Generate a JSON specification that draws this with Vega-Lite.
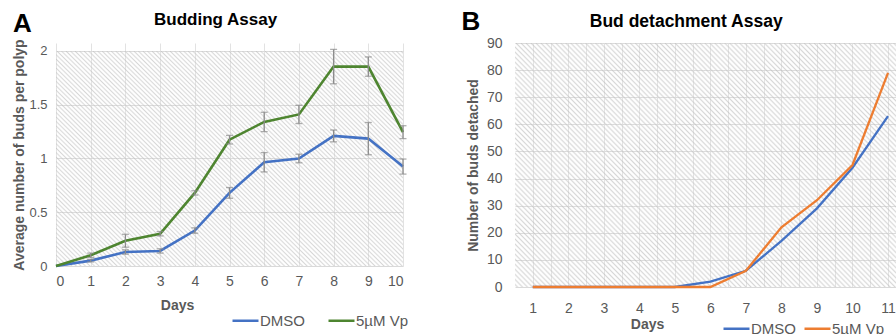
{
  "$schema": "https://vega.github.io/schema/vega-lite/v6.json",
  "padding": {"left": 12, "top": 8, "right": 0, "bottom": 0},
  "background": "white",
  "spacing": 52,
  "config": {
    "font": "Liberation Sans",
    "view": {"stroke": null, "fill": null},
    "rect": {
      "fill": {
        "gradient": "linear", "x1": 0, "y1": 1, "x2": 1.167, "y2": 0.265,
        "stops": [
          {"offset":0,"color":"rgba(255,255,255,0)"},{"offset":0.004,"color":"rgba(190,190,190,0.62)"},{"offset":0.008,"color":"rgba(255,255,255,0)"},{"offset":0.012,"color":"rgba(190,190,190,0.62)"},{"offset":0.016,"color":"rgba(255,255,255,0)"},{"offset":0.02,"color":"rgba(190,190,190,0.62)"},{"offset":0.024,"color":"rgba(255,255,255,0)"},{"offset":0.028,"color":"rgba(190,190,190,0.62)"},{"offset":0.032,"color":"rgba(255,255,255,0)"},{"offset":0.036,"color":"rgba(190,190,190,0.62)"},
          {"offset":0.04,"color":"rgba(255,255,255,0)"},{"offset":0.044,"color":"rgba(190,190,190,0.62)"},{"offset":0.048,"color":"rgba(255,255,255,0)"},{"offset":0.052,"color":"rgba(190,190,190,0.62)"},{"offset":0.056,"color":"rgba(255,255,255,0)"},{"offset":0.06,"color":"rgba(190,190,190,0.62)"},{"offset":0.064,"color":"rgba(255,255,255,0)"},{"offset":0.068,"color":"rgba(190,190,190,0.62)"},{"offset":0.072,"color":"rgba(255,255,255,0)"},{"offset":0.076,"color":"rgba(190,190,190,0.62)"},
          {"offset":0.08,"color":"rgba(255,255,255,0)"},{"offset":0.084,"color":"rgba(190,190,190,0.62)"},{"offset":0.088,"color":"rgba(255,255,255,0)"},{"offset":0.092,"color":"rgba(190,190,190,0.62)"},{"offset":0.096,"color":"rgba(255,255,255,0)"},{"offset":0.1,"color":"rgba(190,190,190,0.62)"},{"offset":0.104,"color":"rgba(255,255,255,0)"},{"offset":0.108,"color":"rgba(190,190,190,0.62)"},{"offset":0.112,"color":"rgba(255,255,255,0)"},{"offset":0.116,"color":"rgba(190,190,190,0.62)"},
          {"offset":0.12,"color":"rgba(255,255,255,0)"},{"offset":0.124,"color":"rgba(190,190,190,0.62)"},{"offset":0.128,"color":"rgba(255,255,255,0)"},{"offset":0.132,"color":"rgba(190,190,190,0.62)"},{"offset":0.136,"color":"rgba(255,255,255,0)"},{"offset":0.14,"color":"rgba(190,190,190,0.62)"},{"offset":0.144,"color":"rgba(255,255,255,0)"},{"offset":0.148,"color":"rgba(190,190,190,0.62)"},{"offset":0.152,"color":"rgba(255,255,255,0)"},{"offset":0.156,"color":"rgba(190,190,190,0.62)"},
          {"offset":0.16,"color":"rgba(255,255,255,0)"},{"offset":0.164,"color":"rgba(190,190,190,0.62)"},{"offset":0.168,"color":"rgba(255,255,255,0)"},{"offset":0.172,"color":"rgba(190,190,190,0.62)"},{"offset":0.176,"color":"rgba(255,255,255,0)"},{"offset":0.18,"color":"rgba(190,190,190,0.62)"},{"offset":0.184,"color":"rgba(255,255,255,0)"},{"offset":0.188,"color":"rgba(190,190,190,0.62)"},{"offset":0.192,"color":"rgba(255,255,255,0)"},{"offset":0.196,"color":"rgba(190,190,190,0.62)"},
          {"offset":0.2,"color":"rgba(255,255,255,0)"},{"offset":0.204,"color":"rgba(190,190,190,0.62)"},{"offset":0.208,"color":"rgba(255,255,255,0)"},{"offset":0.212,"color":"rgba(190,190,190,0.62)"},{"offset":0.216,"color":"rgba(255,255,255,0)"},{"offset":0.22,"color":"rgba(190,190,190,0.62)"},{"offset":0.224,"color":"rgba(255,255,255,0)"},{"offset":0.228,"color":"rgba(190,190,190,0.62)"},{"offset":0.232,"color":"rgba(255,255,255,0)"},{"offset":0.236,"color":"rgba(190,190,190,0.62)"},
          {"offset":0.24,"color":"rgba(255,255,255,0)"},{"offset":0.244,"color":"rgba(190,190,190,0.62)"},{"offset":0.248,"color":"rgba(255,255,255,0)"},{"offset":0.252,"color":"rgba(190,190,190,0.62)"},{"offset":0.256,"color":"rgba(255,255,255,0)"},{"offset":0.26,"color":"rgba(190,190,190,0.62)"},{"offset":0.264,"color":"rgba(255,255,255,0)"},{"offset":0.268,"color":"rgba(190,190,190,0.62)"},{"offset":0.272,"color":"rgba(255,255,255,0)"},{"offset":0.276,"color":"rgba(190,190,190,0.62)"},
          {"offset":0.28,"color":"rgba(255,255,255,0)"},{"offset":0.284,"color":"rgba(190,190,190,0.62)"},{"offset":0.288,"color":"rgba(255,255,255,0)"},{"offset":0.292,"color":"rgba(190,190,190,0.62)"},{"offset":0.296,"color":"rgba(255,255,255,0)"},{"offset":0.3,"color":"rgba(190,190,190,0.62)"},{"offset":0.304,"color":"rgba(255,255,255,0)"},{"offset":0.308,"color":"rgba(190,190,190,0.62)"},{"offset":0.312,"color":"rgba(255,255,255,0)"},{"offset":0.316,"color":"rgba(190,190,190,0.62)"},
          {"offset":0.32,"color":"rgba(255,255,255,0)"},{"offset":0.324,"color":"rgba(190,190,190,0.62)"},{"offset":0.328,"color":"rgba(255,255,255,0)"},{"offset":0.332,"color":"rgba(190,190,190,0.62)"},{"offset":0.336,"color":"rgba(255,255,255,0)"},{"offset":0.34,"color":"rgba(190,190,190,0.62)"},{"offset":0.344,"color":"rgba(255,255,255,0)"},{"offset":0.348,"color":"rgba(190,190,190,0.62)"},{"offset":0.352,"color":"rgba(255,255,255,0)"},{"offset":0.356,"color":"rgba(190,190,190,0.62)"},
          {"offset":0.36,"color":"rgba(255,255,255,0)"},{"offset":0.364,"color":"rgba(190,190,190,0.62)"},{"offset":0.368,"color":"rgba(255,255,255,0)"},{"offset":0.372,"color":"rgba(190,190,190,0.62)"},{"offset":0.376,"color":"rgba(255,255,255,0)"},{"offset":0.38,"color":"rgba(190,190,190,0.62)"},{"offset":0.384,"color":"rgba(255,255,255,0)"},{"offset":0.388,"color":"rgba(190,190,190,0.62)"},{"offset":0.392,"color":"rgba(255,255,255,0)"},{"offset":0.396,"color":"rgba(190,190,190,0.62)"},
          {"offset":0.4,"color":"rgba(255,255,255,0)"},{"offset":0.404,"color":"rgba(190,190,190,0.62)"},{"offset":0.408,"color":"rgba(255,255,255,0)"},{"offset":0.412,"color":"rgba(190,190,190,0.62)"},{"offset":0.416,"color":"rgba(255,255,255,0)"},{"offset":0.42,"color":"rgba(190,190,190,0.62)"},{"offset":0.424,"color":"rgba(255,255,255,0)"},{"offset":0.428,"color":"rgba(190,190,190,0.62)"},{"offset":0.432,"color":"rgba(255,255,255,0)"},{"offset":0.436,"color":"rgba(190,190,190,0.62)"},
          {"offset":0.44,"color":"rgba(255,255,255,0)"},{"offset":0.444,"color":"rgba(190,190,190,0.62)"},{"offset":0.448,"color":"rgba(255,255,255,0)"},{"offset":0.452,"color":"rgba(190,190,190,0.62)"},{"offset":0.456,"color":"rgba(255,255,255,0)"},{"offset":0.46,"color":"rgba(190,190,190,0.62)"},{"offset":0.464,"color":"rgba(255,255,255,0)"},{"offset":0.468,"color":"rgba(190,190,190,0.62)"},{"offset":0.472,"color":"rgba(255,255,255,0)"},{"offset":0.476,"color":"rgba(190,190,190,0.62)"},
          {"offset":0.48,"color":"rgba(255,255,255,0)"},{"offset":0.484,"color":"rgba(190,190,190,0.62)"},{"offset":0.488,"color":"rgba(255,255,255,0)"},{"offset":0.492,"color":"rgba(190,190,190,0.62)"},{"offset":0.496,"color":"rgba(255,255,255,0)"},{"offset":0.5,"color":"rgba(190,190,190,0.62)"},{"offset":0.504,"color":"rgba(255,255,255,0)"},{"offset":0.508,"color":"rgba(190,190,190,0.62)"},{"offset":0.512,"color":"rgba(255,255,255,0)"},{"offset":0.516,"color":"rgba(190,190,190,0.62)"},
          {"offset":0.52,"color":"rgba(255,255,255,0)"},{"offset":0.524,"color":"rgba(190,190,190,0.62)"},{"offset":0.528,"color":"rgba(255,255,255,0)"},{"offset":0.532,"color":"rgba(190,190,190,0.62)"},{"offset":0.536,"color":"rgba(255,255,255,0)"},{"offset":0.54,"color":"rgba(190,190,190,0.62)"},{"offset":0.544,"color":"rgba(255,255,255,0)"},{"offset":0.548,"color":"rgba(190,190,190,0.62)"},{"offset":0.552,"color":"rgba(255,255,255,0)"},{"offset":0.556,"color":"rgba(190,190,190,0.62)"},
          {"offset":0.56,"color":"rgba(255,255,255,0)"},{"offset":0.564,"color":"rgba(190,190,190,0.62)"},{"offset":0.568,"color":"rgba(255,255,255,0)"},{"offset":0.572,"color":"rgba(190,190,190,0.62)"},{"offset":0.576,"color":"rgba(255,255,255,0)"},{"offset":0.58,"color":"rgba(190,190,190,0.62)"},{"offset":0.584,"color":"rgba(255,255,255,0)"},{"offset":0.588,"color":"rgba(190,190,190,0.62)"},{"offset":0.592,"color":"rgba(255,255,255,0)"},{"offset":0.596,"color":"rgba(190,190,190,0.62)"},
          {"offset":0.6,"color":"rgba(255,255,255,0)"},{"offset":0.604,"color":"rgba(190,190,190,0.62)"},{"offset":0.608,"color":"rgba(255,255,255,0)"},{"offset":0.612,"color":"rgba(190,190,190,0.62)"},{"offset":0.616,"color":"rgba(255,255,255,0)"},{"offset":0.62,"color":"rgba(190,190,190,0.62)"},{"offset":0.624,"color":"rgba(255,255,255,0)"},{"offset":0.628,"color":"rgba(190,190,190,0.62)"},{"offset":0.632,"color":"rgba(255,255,255,0)"},{"offset":0.636,"color":"rgba(190,190,190,0.62)"},
          {"offset":0.64,"color":"rgba(255,255,255,0)"},{"offset":0.644,"color":"rgba(190,190,190,0.62)"},{"offset":0.648,"color":"rgba(255,255,255,0)"},{"offset":0.652,"color":"rgba(190,190,190,0.62)"},{"offset":0.656,"color":"rgba(255,255,255,0)"},{"offset":0.66,"color":"rgba(190,190,190,0.62)"},{"offset":0.664,"color":"rgba(255,255,255,0)"},{"offset":0.668,"color":"rgba(190,190,190,0.62)"},{"offset":0.672,"color":"rgba(255,255,255,0)"},{"offset":0.676,"color":"rgba(190,190,190,0.62)"},
          {"offset":0.68,"color":"rgba(255,255,255,0)"},{"offset":0.684,"color":"rgba(190,190,190,0.62)"},{"offset":0.688,"color":"rgba(255,255,255,0)"},{"offset":0.692,"color":"rgba(190,190,190,0.62)"},{"offset":0.696,"color":"rgba(255,255,255,0)"},{"offset":0.7,"color":"rgba(190,190,190,0.62)"},{"offset":0.704,"color":"rgba(255,255,255,0)"},{"offset":0.708,"color":"rgba(190,190,190,0.62)"},{"offset":0.712,"color":"rgba(255,255,255,0)"},{"offset":0.716,"color":"rgba(190,190,190,0.62)"},
          {"offset":0.72,"color":"rgba(255,255,255,0)"},{"offset":0.724,"color":"rgba(190,190,190,0.62)"},{"offset":0.728,"color":"rgba(255,255,255,0)"},{"offset":0.732,"color":"rgba(190,190,190,0.62)"},{"offset":0.736,"color":"rgba(255,255,255,0)"},{"offset":0.74,"color":"rgba(190,190,190,0.62)"},{"offset":0.744,"color":"rgba(255,255,255,0)"},{"offset":0.748,"color":"rgba(190,190,190,0.62)"},{"offset":0.752,"color":"rgba(255,255,255,0)"},{"offset":0.756,"color":"rgba(190,190,190,0.62)"},
          {"offset":0.76,"color":"rgba(255,255,255,0)"},{"offset":0.764,"color":"rgba(190,190,190,0.62)"},{"offset":0.768,"color":"rgba(255,255,255,0)"},{"offset":0.772,"color":"rgba(190,190,190,0.62)"},{"offset":0.776,"color":"rgba(255,255,255,0)"},{"offset":0.78,"color":"rgba(190,190,190,0.62)"},{"offset":0.784,"color":"rgba(255,255,255,0)"},{"offset":0.788,"color":"rgba(190,190,190,0.62)"},{"offset":0.792,"color":"rgba(255,255,255,0)"},{"offset":0.796,"color":"rgba(190,190,190,0.62)"},
          {"offset":0.8,"color":"rgba(255,255,255,0)"},{"offset":0.804,"color":"rgba(190,190,190,0.62)"},{"offset":0.808,"color":"rgba(255,255,255,0)"},{"offset":0.812,"color":"rgba(190,190,190,0.62)"},{"offset":0.816,"color":"rgba(255,255,255,0)"},{"offset":0.82,"color":"rgba(190,190,190,0.62)"},{"offset":0.824,"color":"rgba(255,255,255,0)"},{"offset":0.828,"color":"rgba(190,190,190,0.62)"},{"offset":0.832,"color":"rgba(255,255,255,0)"},{"offset":0.836,"color":"rgba(190,190,190,0.62)"},
          {"offset":0.84,"color":"rgba(255,255,255,0)"},{"offset":0.844,"color":"rgba(190,190,190,0.62)"},{"offset":0.848,"color":"rgba(255,255,255,0)"},{"offset":0.852,"color":"rgba(190,190,190,0.62)"},{"offset":0.856,"color":"rgba(255,255,255,0)"},{"offset":0.86,"color":"rgba(190,190,190,0.62)"},{"offset":0.864,"color":"rgba(255,255,255,0)"},{"offset":0.868,"color":"rgba(190,190,190,0.62)"},{"offset":0.872,"color":"rgba(255,255,255,0)"},{"offset":0.876,"color":"rgba(190,190,190,0.62)"},
          {"offset":0.88,"color":"rgba(255,255,255,0)"},{"offset":0.884,"color":"rgba(190,190,190,0.62)"},{"offset":0.888,"color":"rgba(255,255,255,0)"},{"offset":0.892,"color":"rgba(190,190,190,0.62)"},{"offset":0.896,"color":"rgba(255,255,255,0)"},{"offset":0.9,"color":"rgba(190,190,190,0.62)"},{"offset":0.904,"color":"rgba(255,255,255,0)"},{"offset":0.908,"color":"rgba(190,190,190,0.62)"},{"offset":0.912,"color":"rgba(255,255,255,0)"},{"offset":0.916,"color":"rgba(190,190,190,0.62)"},
          {"offset":0.92,"color":"rgba(255,255,255,0)"},{"offset":0.924,"color":"rgba(190,190,190,0.62)"},{"offset":0.928,"color":"rgba(255,255,255,0)"},{"offset":0.932,"color":"rgba(190,190,190,0.62)"},{"offset":0.936,"color":"rgba(255,255,255,0)"},{"offset":0.94,"color":"rgba(190,190,190,0.62)"},{"offset":0.944,"color":"rgba(255,255,255,0)"},{"offset":0.948,"color":"rgba(190,190,190,0.62)"},{"offset":0.952,"color":"rgba(255,255,255,0)"},{"offset":0.956,"color":"rgba(190,190,190,0.62)"},
          {"offset":0.96,"color":"rgba(255,255,255,0)"},{"offset":0.964,"color":"rgba(190,190,190,0.62)"},{"offset":0.968,"color":"rgba(255,255,255,0)"},{"offset":0.972,"color":"rgba(190,190,190,0.62)"},{"offset":0.976,"color":"rgba(255,255,255,0)"},{"offset":0.98,"color":"rgba(190,190,190,0.62)"},{"offset":0.984,"color":"rgba(255,255,255,0)"},{"offset":0.988,"color":"rgba(190,190,190,0.62)"},{"offset":0.992,"color":"rgba(255,255,255,0)"},{"offset":0.996,"color":"rgba(190,190,190,0.62)"},
          {"offset":1,"color":"rgba(255,255,255,0)"}
        ]
      }
    },
    "axis": {
      "labelColor": "#595959", "titleColor": "#595959",
      "labelFont": "Liberation Sans", "titleFont": "Liberation Sans",
      "labelFontSize": 14, "titleFontSize": 14, "titleFontWeight": "bold",
      "ticks": false, "domain": false, "gridColor": "#d9d9d9", "gridWidth": 1, "labelAngle": 0, "labelOverlap": false
    },
    "legend": {
      "orient": "none", "direction": "horizontal", "symbolType": "stroke",
      "symbolSize": 676, "symbolStrokeWidth": 2.5, "labelFontSize": 15,
      "labelColor": "#595959", "labelFont": "Liberation Sans", "labelOffset": 0
    },
    "title": {"font": "Liberation Sans", "color": "#000000", "fontWeight": "bold"}
  },
  "resolve": {"scale": {"color": "independent"}, "legend": {"color": "independent"}},
  "datasets": {
    "budding": [
      {"day": 0, "group": "DMSO", "mean": 0, "err": 0},
      {"day": 1, "group": "DMSO", "mean": 0.05, "err": 0.012},
      {"day": 2, "group": "DMSO", "mean": 0.13, "err": 0.02},
      {"day": 3, "group": "DMSO", "mean": 0.14, "err": 0.02},
      {"day": 4, "group": "DMSO", "mean": 0.33, "err": 0.025},
      {"day": 5, "group": "DMSO", "mean": 0.68, "err": 0.05},
      {"day": 6, "group": "DMSO", "mean": 0.965, "err": 0.09},
      {"day": 7, "group": "DMSO", "mean": 1.0, "err": 0.04},
      {"day": 8, "group": "DMSO", "mean": 1.21, "err": 0.055},
      {"day": 9, "group": "DMSO", "mean": 1.185, "err": 0.15},
      {"day": 10, "group": "DMSO", "mean": 0.925, "err": 0.07},
      {"day": 0, "group": "5µM Vp", "mean": 0, "err": 0},
      {"day": 1, "group": "5µM Vp", "mean": 0.1, "err": 0.02},
      {"day": 2, "group": "5µM Vp", "mean": 0.235, "err": 0.06},
      {"day": 3, "group": "5µM Vp", "mean": 0.3, "err": 0.02},
      {"day": 4, "group": "5µM Vp", "mean": 0.68, "err": 0.02},
      {"day": 5, "group": "5µM Vp", "mean": 1.175, "err": 0.04},
      {"day": 6, "group": "5µM Vp", "mean": 1.34, "err": 0.09},
      {"day": 7, "group": "5µM Vp", "mean": 1.41, "err": 0.085},
      {"day": 8, "group": "5µM Vp", "mean": 1.855, "err": 0.16},
      {"day": 9, "group": "5µM Vp", "mean": 1.855, "err": 0.09},
      {"day": 10, "group": "5µM Vp", "mean": 1.245, "err": 0.06}
    ],
    "detach": [
      {"day": 1, "group": "DMSO", "value": 0},
      {"day": 2, "group": "DMSO", "value": 0},
      {"day": 3, "group": "DMSO", "value": 0},
      {"day": 4, "group": "DMSO", "value": 0},
      {"day": 5, "group": "DMSO", "value": 0},
      {"day": 6, "group": "DMSO", "value": 2},
      {"day": 7, "group": "DMSO", "value": 6},
      {"day": 8, "group": "DMSO", "value": 17},
      {"day": 9, "group": "DMSO", "value": 29},
      {"day": 10, "group": "DMSO", "value": 44},
      {"day": 11, "group": "DMSO", "value": 63},
      {"day": 1, "group": "5µM Vp", "value": 0},
      {"day": 2, "group": "5µM Vp", "value": 0},
      {"day": 3, "group": "5µM Vp", "value": 0},
      {"day": 4, "group": "5µM Vp", "value": 0},
      {"day": 5, "group": "5µM Vp", "value": 0},
      {"day": 6, "group": "5µM Vp", "value": 0},
      {"day": 7, "group": "5µM Vp", "value": 6},
      {"day": 8, "group": "5µM Vp", "value": 22},
      {"day": 9, "group": "5µM Vp", "value": 32},
      {"day": 10, "group": "5µM Vp", "value": 45},
      {"day": 11, "group": "5µM Vp", "value": 79}
    ]
  },
  "hconcat": [
    {
      "title": {"text": "A", "anchor": "start", "frame": "bounds", "fontSize": 26, "dy": 30},
      "vconcat": [
        {
          "title": {"text": "Budding Assay", "fontSize": 17, "anchor": "middle", "frame": "bounds", "offset": 10, "dx": 5},
          "width": 347,
          "height": 223,
          "layer": [
            {
              "data": {"values": [{}]},
              "mark": {"type": "rect"},
              "encoding": {
                "x": {"datum": 0, "type": "quantitative", "scale": {"domain": [0, 10], "nice": false},
                      "axis": {"values": [0,1,2,3,4,5,6,7,8,9,10], "labelOverlap": false, "title": "Days", "titleX": 121, "labelPadding": 8, "titlePadding": 10, "grid": true, "gridColor": "#e2e2e2"}},
                "x2": {"datum": 10},
                "y": {"datum": 0, "type": "quantitative", "scale": {"domain": [0, 2.0744], "nice": false},
                      "axis": {"values": [0, 0.5, 1, 1.5, 2], "format": "~g", "title": "Average number of buds per polyp", "labelFontSize": 13, "labelPadding": 9, "titlePadding": 2, "grid": true}},
                "y2": {"datum": 2}
              }
            },
            {
              "data": {"name": "budding"},
              "mark": {"type": "line", "strokeWidth": 2.6},
              "encoding": {
                "x": {"field": "day", "type": "quantitative", "scale": {"domain": [0, 10], "nice": false},
                      "axis": {"values": [0,1,2,3,4,5,6,7,8,9,10], "labelOverlap": false, "title": "Days", "titleX": 121, "labelPadding": 8, "titlePadding": 10, "grid": true, "gridColor": "#e2e2e2"}},
                "y": {"field": "mean", "type": "quantitative", "scale": {"domain": [0, 2.0744], "nice": false},
                      "axis": {"values": [0, 0.5, 1, 1.5, 2], "format": "~g", "title": "Average number of buds per polyp", "labelFontSize": 13, "labelPadding": 9, "titlePadding": 2, "grid": true}},
                "color": {"field": "group", "type": "nominal",
                          "scale": {"domain": ["DMSO", "5µM Vp"], "range": ["#4472C4", "#4E8530"]},
                          "legend": {"title": null, "legendX": 175, "legendY": 263, "columnPadding": 18}}
              }
            },
            {
              "data": {"name": "budding"},
              "transform": [{"filter": "datum.err > 0"}],
              "mark": {"type": "errorbar", "ticks": {"size": 7}, "color": "#8c8c8c", "thickness": 1.3},
              "encoding": {
                "x": {"field": "day", "type": "quantitative", "scale": {"domain": [0, 10], "nice": false},
                      "axis": {"values": [0,1,2,3,4,5,6,7,8,9,10], "labelOverlap": false, "title": "Days", "titleX": 121, "labelPadding": 8, "titlePadding": 10, "grid": true, "gridColor": "#e2e2e2"}},
                "y": {"field": "mean", "type": "quantitative", "scale": {"domain": [0, 2.0744], "nice": false},
                      "axis": {"values": [0, 0.5, 1, 1.5, 2], "format": "~g", "title": "Average number of buds per polyp", "labelFontSize": 13, "labelPadding": 9, "titlePadding": 2, "grid": true}},
                "yError": {"field": "err"}
              }
            }
          ]
        }
      ]
    },
    {
      "title": {"text": "B", "anchor": "start", "frame": "bounds", "fontSize": 26, "dy": 26, "dx": -5},
      "vconcat": [
        {
          "title": {"text": "Bud detachment Assay", "fontSize": 17.5, "anchor": "middle", "frame": "bounds", "offset": 6, "dx": 5},
          "width": 381,
          "height": 244,
          "layer": [
            {
              "data": {"values": [{}]},
              "mark": {"type": "rect"},
              "encoding": {
                "x": {"datum": 0.5, "type": "quantitative", "scale": {"domain": [0.5, 11.225], "nice": false},
                      "axis": {"values": [1,1.5,2,2.5,3,3.5,4,4.5,5,5.5,6,6.5,7,7.5,8,8.5,9,9.5,10,10.5,11],
                               "labelExpr": "datum.value % 1 == 0 ? format(datum.value, 'd') : ''", "labelOverlap": false,
                               "title": "Days", "titleX": 132, "labelPadding": 14, "titlePadding": 2, "grid": true, "gridColor": "#e2e2e2"}},
                "x2": {"datum": 11.225},
                "y": {"datum": 0, "type": "quantitative", "scale": {"domain": [0, 90], "nice": false},
                      "axis": {"values": [0,10,20,30,40,50,60,70,80,90], "labelOverlap": false, "title": "Number of buds detached", "labelPadding": 13, "titlePadding": 6, "grid": true}},
                "y2": {"datum": 90}
              }
            },
            {
              "data": {"name": "detach"},
              "mark": {"type": "line", "strokeWidth": 2.3},
              "encoding": {
                "x": {"field": "day", "type": "quantitative", "scale": {"domain": [0.5, 11.225], "nice": false},
                      "axis": {"values": [1,1.5,2,2.5,3,3.5,4,4.5,5,5.5,6,6.5,7,7.5,8,8.5,9,9.5,10,10.5,11],
                               "labelExpr": "datum.value % 1 == 0 ? format(datum.value, 'd') : ''", "labelOverlap": false,
                               "title": "Days", "titleX": 132, "labelPadding": 14, "titlePadding": 2, "grid": true, "gridColor": "#e2e2e2"}},
                "y": {"field": "value", "type": "quantitative", "scale": {"domain": [0, 90], "nice": false},
                      "axis": {"values": [0,10,20,30,40,50,60,70,80,90], "labelOverlap": false, "title": "Number of buds detached", "labelPadding": 13, "titlePadding": 6, "grid": true}},
                "color": {"field": "group", "type": "nominal",
                          "scale": {"domain": ["DMSO", "5µM Vp"], "range": ["#4472C4", "#ED7D31"]},
                          "legend": {"title": null, "legendX": 207, "legendY": 271, "columnPadding": 3}}
              }
            }
          ]
        }
      ]
    }
  ]
}
